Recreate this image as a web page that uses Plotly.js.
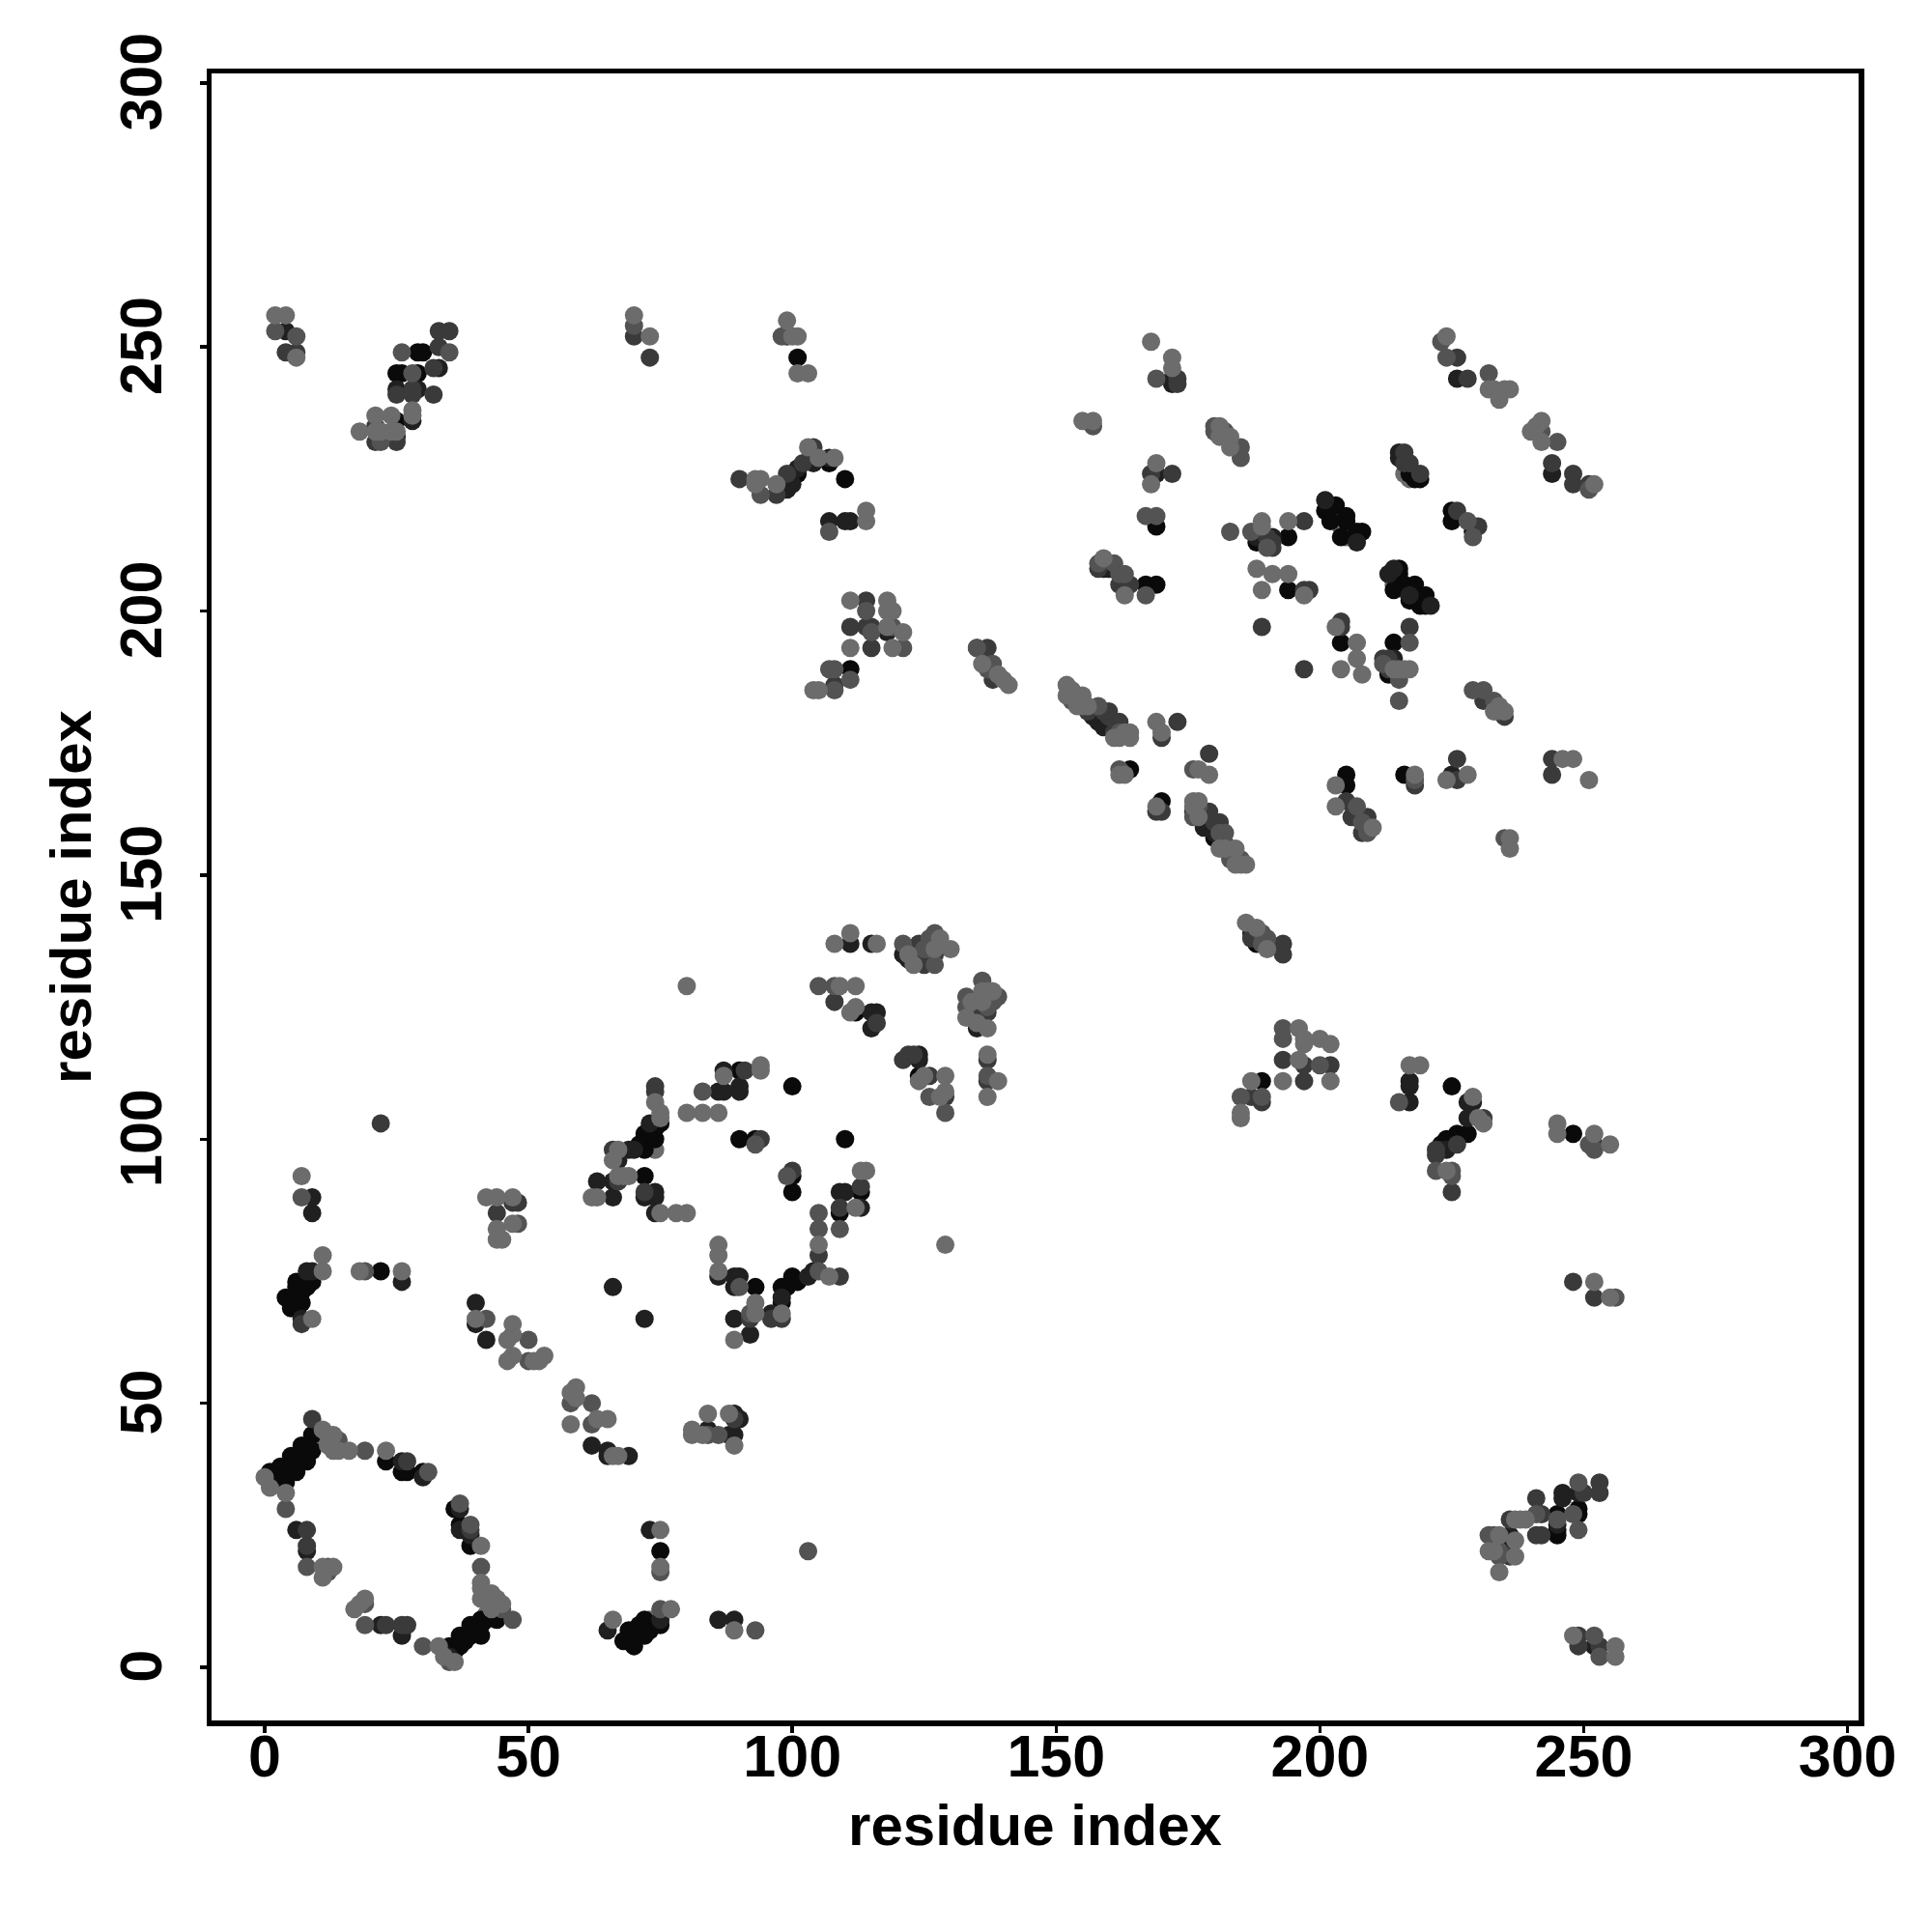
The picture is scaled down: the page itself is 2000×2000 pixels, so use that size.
<!DOCTYPE html>
<html>
<head>
<meta charset="utf-8">
<script src="https://cdn.plot.ly/plotly-3.0.1.min.js"></script>
<style>html,body{margin:0;padding:0;background:#fff}#plot{width:2000px;height:2000px}</style>
</head>
<body>
<div id="plot"></div>
<script>
const axisLabel = "residue index";
const tickValues = [0, 50, 100, 150, 200, 250, 300];

// residue pairs [i, j], one list per grey level
const shadeBehind = [
[216,226],[217,225],[214,205],[218,203],[203,218],[205,214],[218,226],[203,219],[204,216],[216,204],
[8,41],[10,43],[6,38],[4,37],[38,6],[40,8],[42,10],[70,6],[73,9],[74,98],[73,101]
];
const shadeMid = [
[11,78],[11,75],[18,75],[26,75],[40,66],[47,65],[47,63],[46,62],[46,58],[47,59],[51,58],[52,58],[53,59],[59,53],[58,52],[59,51],[58,46],[63,47],[65,47],[66,40],[67,40],[66,9],
[9,66],[7,93],[0,36],[1,34],[4,33],[11,45],[12,44],[13,44],[12,42],[13,41],[14,41],[16,41],[23,41],[11,19],[13,19],[11,17],[17,11],[19,13],[18,12],[33,4],[34,2],[36,1],[44,13],[43,14],[41,13],[41,15],[41,16],[41,23],[45,12],[43,11],
[75,26],[75,19],[77,11],[44,83],[44,81],[45,81],[47,84],[42,89],[44,89],[47,89],
[62,89],[63,89],[67,93],[68,93],[69,93],[67,98],[66,96],[74,107],[75,105],[75,104],[80,105],[83,105],[86,105],[75,86],[78,86],[80,86],[87,112],[94,113],[94,114],[113,94],[114,94],[112,87],[105,80],[107,74],
[98,67],[93,69],[93,67],[89,62],[86,80],[86,78],[86,75],[80,129],[129,80],
[108,137],[111,139],[116,137],[109,129],[112,129],[111,124],[112,125],[122,135],[123,133],[128,138],[128,137],[130,136],[127,136],
[137,128],[138,128],[133,123],[137,121],[135,122],[134,126],[136,126],[136,128],[124,111],[125,112],[129,112],[128,108],[129,109],[137,116],[139,111],[137,108],
[81,44],[83,44],[81,45],[88,48],[84,48],[89,42],[89,7],
[237,28],[238,28],[239,28],[234,25],[237,24],[232,22],[233,22],[237,21],[234,18],[248,6],[256,4],[256,2],
[196,121],[197,119],[197,118],[200,119],[202,118],[196,115],[193,111],[202,111],[187,111],[185,105],[185,104],[217,114],[219,114],[229,108],[231,103],[230,104],[224,94],[245,103],[245,101],[252,101],[255,99],[252,73],[255,70],
[168,251],[172,248],[172,246],[155,236],[157,236],[181,235],[181,233],[183,233],[183,231],[169,228],[168,224],[189,217],[189,216],[194,217],[188,208],[191,207],[194,207],[189,204],[197,203],[159,210],[163,203],
[224,252],[232,242],[233,242],[234,240],[235,242],[236,242],[242,236],[240,234],[241,235],[242,232],[252,224],
[203,197],[207,194],[207,191],[204,189],[208,188],[214,189],[215,189],[216,189],[217,189],[234,182],[233,181],[235,181],[246,172],[248,172],[251,168],[228,169],[224,168],[218,169],[203,163],[203,167],[210,159],[236,157],[236,155],
[152,186],[152,184],[153,185],[155,184],[154,182],[155,182],[156,182],[161,176],[162,176],[163,177],[164,177],[164,176],[169,179],[170,177],[162,169],[163,169],[169,163],[177,170],[179,169],[176,164],[177,164],[176,163],[177,161],[181,155],[182,155],[184,155],[184,152],[185,152],[186,152],
[186,141],[188,140],[190,136],
[93,225],[94,225],[93,224],[97,224],[103,231],[105,229],[108,229],[114,217],[114,219],[111,202],[118,202],[118,200],[119,200],[118,197],[121,196],[111,193],[119,193],[104,185],[105,185],[136,190],[139,188],[140,187],[141,186],
[2,256],[4,256],[6,248],[28,238],[28,237],[21,237],[24,237],[18,234],[21,234],[22,234],[24,234],[25,234],[70,256],[73,252],[99,255],[100,252],[101,252],[101,245],[103,245]
];
const shadeSoft = [
[19,75],[42,66],[48,84],[50,62],[50,58],[58,50],[62,50],[62,46],[7,89],
[4,30],[14,43],[19,41],[31,37],[8,19],[12,19],[12,18],[19,12],[19,8],[30,4],[35,1],[41,19],[39,27],[37,31],[45,11],[47,9],[75,11],[75,18],[93,7],[103,22],[84,44],[86,44],
[83,109],[93,99],[99,93],[105,86],[105,83],[105,75],[109,83],[90,72],[92,67],[105,129],[108,129],[121,137],[125,136],[127,133],[127,139],[126,138],[126,136],[136,130],[139,127],[138,126],[133,127],[133,125],[137,125],[126,108],[129,105],[137,112],
[232,25],[233,25],[234,22],[234,21],[241,29],[249,26],[245,28],[249,35],[252,6],[253,2],[248,29],
[193,121],[193,119],[200,114],[185,108],[189,108],[215,107],[222,94],[225,94],[225,93],[251,99],[252,98],[256,70],[217,194],
[169,244],[157,235],[180,235],[180,234],[182,234],[185,231],[185,229],[167,218],[169,218],[183,215],[187,215],[190,212],[158,209],[161,209],[162,207],[163,207],[167,203],
[223,251],[224,248],[232,245],[234,241],[242,234],[245,232],[251,223],[228,217],[229,214],[215,187],[215,183],[229,185],[231,185],[233,183],[234,181],[218,168],[212,190],[207,163],[209,158],[208,160],[235,157],
[153,183],[153,184],[154,183],[158,182],[162,177],[162,170],[176,170],[176,161],[177,163],[181,158],[182,158],[182,156],[183,155],[184,154],[185,153],[183,153],[183,154],[189,139],[189,137],[190,138],
[94,222],[107,215],[114,200],[115,196],[119,197],[121,193],[107,189],[108,189],[111,187],[108,185],[135,193],[138,190],[137,189],
[2,253],[6,252],[26,249],[35,249],[28,245],[22,232],[70,254],[98,252]
];
const shadeMedium = [
[9,47],[27,39],[27,8],[26,8],[23,8],[8,26],[8,23],[44,86],[47,88],[48,88],[22,103],[39,26],[7,65],[74,110],[74,109],[66,98],[67,92],[72,90],[91,113],[94,100],[100,94],[105,78],[109,74],[113,91],[109,87],[98,66],[96,66],[92,66],
[108,126],[116,122],[124,137],[124,135],[123,135],[124,134],[125,134],[127,135],[125,133],[134,124],[135,125],[135,123],[137,124],[121,115],[122,116],[123,116],[126,112],[129,108],[137,115],[137,111],[89,47],
[249,4],[253,4],[253,35],[253,33],[250,33],[241,32],[242,29],[241,25],[242,25],[236,28],[236,21],[249,6],
[193,115],[197,111],[197,114],[202,114],[187,108],[189,107],[231,104],[222,97],[222,98],[226,99],[225,90],[252,99],[248,73],[252,70],[217,197],
[173,244],[173,243],[168,226],[172,226],[190,214],[191,213],[191,212],[197,217],[197,204],[198,204],[189,197],[204,198],[158,208],[162,205],[163,205],[164,205],
[226,248],[228,244],[244,228],[248,226],[248,224],[251,224],[226,219],[230,216],[216,230],[216,228],[217,228],[219,226],
[204,197],[212,191],[213,191],[213,189],[197,189],[231,183],[235,180],[226,172],[226,168],[244,172],[244,169],[218,167],[205,164],[206,161],[209,161],[208,158],
[160,181],[160,180],[159,181],[156,181],[162,179],[173,179],[170,176],[169,162],[170,162],[179,173],[176,162],[178,162],[179,162],[180,160],[181,160],[187,138],[193,137],[193,135],[161,177],
[90,225],[97,222],[99,226],[104,231],[102,228],[114,202],[114,197],[115,197],[111,197],[115,193],[108,186],[137,193],[135,193],[138,187],
[4,249],[6,249],[33,253],[35,253],[33,250],[32,246],[25,241],[28,242],[28,241],[32,241],[21,235],[21,232],[25,232],[70,252],[73,248],[99,252]
];
const shadeDark = [
[9,75],[8,75],[9,89],[9,86],[7,66],[26,73],[40,69],[40,65],[42,62],[62,42],[65,40],[65,41],[69,40],[26,39],[30,36],[6,26],[8,22],[22,8],[26,6],[35,2],[39,25],[37,30],[37,26],[65,7],[75,9],[73,26],[86,9],[89,9],[66,72],[72,66],
[63,92],[66,89],[66,92],[69,98],[70,98],[67,96],[73,103],[72,89],[74,90],[74,89],[74,86],[86,109],[87,109],[90,109],[90,110],[87,113],[113,87],[109,90],[110,90],[103,74],[104,75],[89,66],[92,63],[90,74],[89,74],[89,72],[86,74],[98,70],[96,67],
[111,137],[115,137],[115,124],[116,124],[115,121],[121,135],[122,134],[126,135],[135,121],[136,124],[136,122],[124,116],[124,115],[84,45],[88,44],[89,44],[90,47],[89,48],
[246,33],[246,32],[236,25],[236,24],[245,27],[249,33],[252,4],
[217,111],[217,110],[217,107],[228,107],[229,107],[228,104],[224,98],[223,98],
[172,244],[172,243],[169,226],[191,214],[188,214],[201,221],[207,213],
[244,226],[226,244],[159,208],[160,208],[214,208],[213,207],[221,201],[217,203],[215,229],[215,230],[214,191],[225,169],
[157,181],[157,180],[158,179],[158,180],[159,180],[159,178],[160,179],[161,178],[178,159],[178,161],[179,160],[180,158],[181,157],[187,139],[188,138],
[99,223],[100,224],[101,227],[104,228],[107,229],[107,217],[110,217],[111,217],[118,196],
[4,253],[33,246],[25,242],[29,242],[28,236],[25,233]
];
const shadeBlack = [
[9,73],[8,72],[6,73],[4,70],[6,70],[7,69],[5,68],[6,72],[7,71],[22,75],[23,39],[26,37],[27,37],[30,37],[9,44],[7,42],[5,40],[3,38],[7,40],[5,38],[4,35],[1,37],[3,36],[2,36],[6,39],[8,39],[6,37],[9,41],
[35,4],[37,6],[37,4],[36,3],[39,8],[39,6],[41,8],[41,9],[42,9],[44,9],[41,6],[38,5],[37,27],[36,30],[39,23],[69,7],[69,5],[68,5],[70,4],[72,9],[72,6],[73,7],[71,8],[75,22],[75,8],
[72,93],[72,98],[72,100],[72,101],[74,100],[74,102],[75,103],[73,100],[71,99],[90,113],[100,110],[90,100],[93,100],[110,100],[100,93],[100,90],[113,90],[109,86],[100,74],[101,73],[98,72],[99,72],[100,73],[98,69],[93,72],[112,124],[124,112],
[189,111],[225,110],[226,101],[226,100],[225,100],[224,100],[223,99],[228,101],[248,101],[245,29],[245,25],[245,26],[249,30],[249,29],[101,226],[107,228],[110,225],[111,189],[101,248],[25,245],[26,245],[29,249],[30,249],[29,245],[25,236],
[170,164],[164,170],[169,216],[167,205],[169,205],[201,219],[203,220],[205,218],[205,217],[202,217],[204,214],[208,215],[207,215],[215,208],[215,207],[216,205],[218,205],[217,202],[219,201],[220,203],[220,201],[214,204],[214,194],[204,194],[194,204],[194,214],[188,213],
[225,219],[225,217],[218,225],[219,225],[217,226],[229,215],[216,169],[205,169],[205,167],[180,157],[188,137],[213,188]
];

const shadeGroups = [
  {points: shadeBehind, color: "#6c6c6c"},
  {points: shadeBlack, color: "#0a0a0a"},
  {points: shadeDark, color: "#202020"},
  {points: shadeMedium, color: "#3a3a3a"},
  {points: shadeSoft, color: "#535353"},
  {points: shadeMid, color: "#6c6c6c"}
];

const traces = shadeGroups.map(g => ({
  type: "scatter",
  mode: "markers",
  x: g.points.map(p => p[0]),
  y: g.points.map(p => p[1]),
  marker: {size: 19, color: g.color, line: {width: 0}},
  hoverinfo: "skip",
  showlegend: false
}));

const fontFamily = "'Liberation Sans', Arial, sans-serif";
const axisBase = {
  tickmode: "array",
  tickvals: tickValues,
  ticktext: tickValues.map(String),
  showgrid: false,
  zeroline: false,
  showline: true,
  mirror: true,
  linecolor: "#000",
  linewidth: 5.5,
  ticks: "outside",
  ticklen: 7,
  tickwidth: 3.5,
  tickcolor: "#000",
  tickfont: {family: fontFamily, size: 61, color: "#000", weight: 700},
  automargin: false
};

const layout = {
  width: 2000,
  height: 2000,
  margin: {l: 219, r: 75.5, t: 75.5, b: 219, pad: 0},
  paper_bgcolor: "#fff",
  plot_bgcolor: "#fff",
  showlegend: false,
  xaxis: Object.assign({}, axisBase, {
    range: [-10.07, 302.1],
    ticklabelstandoff: -28,
    title: {text: axisLabel, font: {family: fontFamily, size: 60, color: "#000", weight: 700}, standoff: 19}
  }),
  yaxis: Object.assign({}, axisBase, {
    range: [-10.06, 301.8],
    tickangle: -90,
    ticklabelstandoff: 15,
    ticklabelshift: 8,
    title: {text: axisLabel, font: {family: fontFamily, size: 60, color: "#000", weight: 700}, standoff: 0}
  })
};

Plotly.newPlot("plot", traces, layout, {staticPlot: true, displayModeBar: false});
</script>
</body>
</html>
